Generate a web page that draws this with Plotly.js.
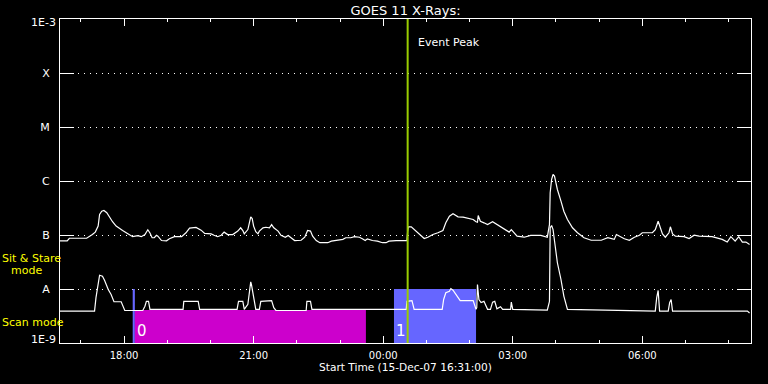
<!DOCTYPE html>
<html><head><meta charset="utf-8">
<script src="https://cdn.plot.ly/plotly-3.0.1.min.js"></script>
<style>html,body{margin:0;padding:0;background:#000;}#chart{width:768px;height:384px;}</style>
</head><body><div id="chart"></div>
<script>
// GOES 11 long channel (1-8 A), times HH:MM from 15-Dec-07 16:31 to 16-Dec-07 08:31
const longTime = ['16:31','16:41','16:44','17:08','17:16','17:20','17:24','17:26','17:29','17:32','17:36','17:40','17:44','17:49','17:54','17:58','18:03','18:08','18:12','18:19','18:24','18:29','18:33','18:36','18:39','18:42','18:45','18:47','18:52','18:59','19:03','19:10','19:20','19:26','19:31','19:40',
'19:47','19:52','20:01','20:05','20:10','20:15','20:19','20:24','20:31','20:38','20:42','20:45','20:47','20:52','20:54','20:56','20:58','21:00','21:03','21:06','21:08','21:13','21:17','21:22','21:25','21:28','21:34','21:38','21:44','21:48','21:52','21:57','22:06','22:11','22:15','22:19','22:22','22:27','22:32','22:43','22:48','22:57',
'23:04','23:08','23:15','23:20','23:27','23:31','23:35','23:38','23:45','23:52','23:59','00:04','00:08','00:18','00:33','00:34','00:35','00:39','00:46','00:53','00:57','01:02','01:09','01:16','01:23','01:27','01:32','01:37','01:44','01:51','01:58','02:05','02:09','02:11','02:12','02:15','02:20','02:25','02:32','02:36','02:43','02:50','02:55','02:58','03:02','03:06','03:16','03:25','03:39','03:48','03:51','03:52','03:54','03:56','03:58','04:02','04:07','04:11','04:16','04:23','04:30','04:39','04:49','05:03','05:12','05:21','05:24','05:30','05:35','05:42','05:49','05:56','06:00','06:14','06:18','06:22','06:24','06:28','06:32','06:37','06:39','06:42','06:46','06:58','07:05','07:12','07:19','07:37','07:51','07:58','08:03','08:09','08:14','08:19','08:24','08:29'];
const longFlux = [7.8e-8,7.8e-8,8.7e-8,8.7e-8,1.02e-7,1.13e-7,1.46e-7,2.40e-7,2.76e-7,2.84e-7,2.58e-7,2.08e-7,1.76e-7,1.46e-7,1.30e-7,1.21e-7,1.10e-7,9.9e-8,9.3e-8,9.7e-8,9.3e-8,1.02e-7,1.25e-7,1.09e-7,8.9e-8,8.9e-8,9.9e-8,9.5e-8,7.9e-8,7.8e-8,8.5e-8,9.3e-8,9.3e-8,1.10e-7,1.34e-7,1.38e-7,
1.23e-7,1.07e-7,1.05e-7,9.9e-8,9.3e-8,9.9e-8,1.13e-7,1.02e-7,1.02e-7,1.18e-7,1.36e-7,1.21e-7,1.05e-7,1.26e-7,1.68e-7,2.17e-7,2.02e-7,1.46e-7,1.15e-7,1.05e-7,1.18e-7,1.36e-7,1.39e-7,1.36e-7,1.56e-7,1.36e-7,1.18e-7,9.9e-8,9.1e-8,9.8e-8,8.9e-8,7.9e-8,8.0e-8,9.1e-8,1.21e-7,1.18e-7,9.5e-8,7.9e-8,7.2e-8,7.2e-8,7.7e-8,8.0e-8,
8.3e-8,8.9e-8,8.9e-8,9.3e-8,9.1e-8,8.5e-8,7.9e-8,8.5e-8,7.9e-8,7.7e-8,7.2e-8,7.2e-8,7.7e-8,7.9e-8,7.9e-8,1.18e-7,1.42e-7,1.42e-7,1.15e-7,9.5e-8,8.6e-8,9.1e-8,1.02e-7,1.10e-7,1.21e-7,1.68e-7,2.23e-7,2.47e-7,2.17e-7,2.14e-7,2.02e-7,1.94e-7,1.76e-7,1.73e-7,2.30e-7,1.80e-7,1.68e-7,1.56e-7,1.76e-7,1.63e-7,1.46e-7,1.26e-7,1.13e-7,1.26e-7,1.07e-7,9.5e-8,9.1e-8,9.8e-8,9.8e-8,9.1e-8,1.56e-7,6.05e-7,1.07e-6,1.32e-6,1.23e-6,6.96e-7,4.23e-7,2.76e-7,1.94e-7,1.36e-7,1.10e-7,8.9e-8,8.0e-8,8.0e-8,8.9e-8,8.3e-8,1.02e-7,9.3e-8,8.5e-8,8.0e-8,9.1e-8,9.9e-8,1.10e-7,1.10e-7,1.26e-7,1.80e-7,1.46e-7,1.05e-7,9.1e-8,1.10e-7,1.42e-7,1.05e-7,9.5e-8,9.3e-8,8.6e-8,9.9e-8,9.5e-8,9.3e-8,8.3e-8,7.4e-8,9.3e-8,7.7e-8,9.3e-8,7.4e-8,7.4e-8,6.7e-8];

// GOES 11 short channel (0.5-4 A)
const shortTime = ['16:31','17:19','17:21','17:26','17:30','17:33','17:38','17:42','17:46','17:56','18:01','18:26','18:29','18:31','18:34','18:36','19:22','19:23','19:43','19:45','20:37','20:39','20:45','20:47','20:52','20:54','20:56','20:57','20:59','21:01','21:03','21:08','21:10','21:25','21:28','21:31','22:13','22:14','22:19','22:21','00:32','00:33','00:40','00:43','01:22','01:24','01:27','01:32','01:34','01:37','01:41','01:47','02:05','02:07','02:09','02:10','02:11','02:13','02:16','02:20','02:25','02:29','02:32','02:35','02:38','02:43','02:46','02:57','02:58','03:00','03:48','03:51','03:52','03:54','03:56','03:59','04:02','04:07','04:11','04:16','05:20','06:18','06:20','06:22','06:24','06:36','06:38','06:40','06:42','08:26','08:29'];
const shortFlux = [3.9e-9,3.9e-9,6.9e-9,1.80e-8,1.73e-8,1.44e-8,9.8e-9,7.9e-9,5.8e-9,5.8e-9,4.0e-9,4.0e-9,4.8e-9,5.9e-9,5.9e-9,4.2e-9,4.2e-9,5.9e-9,5.9e-9,4.2e-9,4.2e-9,5.9e-9,5.9e-9,4.2e-9,5.2e-9,9.8e-9,1.36e-8,1.21e-8,7.9e-9,5.9e-9,4.2e-9,4.2e-9,5.9e-9,6.1e-9,4.5e-9,4.0e-9,4.0e-9,5.9e-9,5.9e-9,4.2e-9,4.2e-9,5.9e-9,6.1e-9,4.2e-9,4.2e-9,6.4e-9,8.5e-9,9.1e-9,1.02e-8,9.5e-9,7.9e-9,6.1e-9,6.1e-9,5.2e-9,4.2e-9,4.5e-9,1.21e-8,6.4e-9,5.6e-9,5.9e-9,4.2e-9,4.2e-9,5.7e-9,5.9e-9,4.3e-9,4.7e-9,4.2e-9,4.2e-9,5.7e-9,4.2e-9,4.05e-9,5.9e-9,1.36e-7,1.50e-7,1.26e-7,6.2e-8,3.06e-8,1.50e-8,7.4e-9,4.2e-9,4.0e-9,3.9e-9,6.9e-9,9.4e-9,3.9e-9,3.9e-9,5.6e-9,6.4e-9,3.9e-9,3.9e-9,3.6e-9];

// Observing mode intervals (Sit & Stare bar, Scan mode 0, Sit & Stare 1)
const modeStart = ['18:12','18:15','00:15'];
const modeEnd   = ['18:15','23:36','02:09'];
const modeTop   = [1e-8, 4.1e-9, 1e-8];
const modeLabel = ['', '0', '1'];
const eventPeak = '00:34';

const rangeStart = '16:31', rangeEnd = '08:31', firstMajorTick = '18:00';
const yTickVals = [1e-9,1e-8,1e-7,1e-6,1e-5,1e-4,1e-3];
const yTickText = ['1E-9','A','B','C','M','X','1E-3'];
const titleText = 'GOES 11 X-Rays:';
const xTitleText = 'Start Time (15-Dec-07 16:31:00)';

function toDate(hm){ const h = parseInt(hm.slice(0,2),10); return (h >= 12 ? '2007-12-15 ' : '2007-12-16 ') + hm; }

const FONT = 'DejaVu Sans';
const modeColors = ['#6666ff', '#cc00cc', '#6666ff'];
const traces = [];
modeStart.forEach((s,i)=>{
  const a = toDate(s), b = toDate(modeEnd[i]);
  traces.push({x:[a,b,b,a,a], y:[1e-9,1e-9,modeTop[i],modeTop[i],1e-9], type:'scatter', mode:'lines',
    fill:'toself', fillcolor:modeColors[i], line:{width:0, color:modeColors[i]}, hoverinfo:'skip', showlegend:false});
});
traces.push({x:longTime.map(toDate), y:longFlux, type:'scatter', mode:'lines', line:{color:'#ffffff', width:1.2}, showlegend:false});
traces.push({x:shortTime.map(toDate), y:shortFlux, type:'scatter', mode:'lines', line:{color:'#ffffff', width:1.2}, showlegend:false});
traces.push({x:[toDate(eventPeak), toDate(eventPeak)], y:[yTickVals[0], yTickVals[yTickVals.length-1]], type:'scatter', mode:'lines', line:{color:'#99cc00', width:2}, showlegend:false});

// decade labels at the box edges are drawn as annotations so they sit inside the box like the original
const edgeIdx = [0, yTickText.length-1];
const annotations = [
  {text:yTickText[0], x:-0.0045, xref:'paper', xanchor:'right', y:0.011, yref:'paper', yanchor:'middle', showarrow:false, borderpad:0, font:{family:FONT, size:11, color:'#ffffff'}},
  {text:yTickText[yTickText.length-1], x:-0.0045, xref:'paper', xanchor:'right', y:0.988, yref:'paper', yanchor:'middle', showarrow:false, borderpad:0, font:{family:FONT, size:11, color:'#ffffff'}},
  {text:'Event Peak', x:toDate(eventPeak), xref:'x', xanchor:'left', xshift:9, y:0.926, yref:'paper', yanchor:'middle', showarrow:false, borderpad:0, font:{family:FONT, size:11, color:'#ffffff'}},
  {text:'Sit & Stare', x:-0.0852, xref:'paper', xanchor:'left', y:0.262, yref:'paper', yanchor:'middle', showarrow:false, borderpad:0, font:{family:FONT, size:11, color:'#ffff00'}},
  {text:'mode', x:-0.0723, xref:'paper', xanchor:'left', y:0.2234, yref:'paper', yanchor:'middle', showarrow:false, borderpad:0, font:{family:FONT, size:11, color:'#ffff00'}},
  {text:'Scan mode', x:-0.0852, xref:'paper', xanchor:'left', y:0.0647, yref:'paper', yanchor:'middle', showarrow:false, borderpad:0, font:{family:FONT, size:11, color:'#ffff00'}}
];
modeLabel.forEach((t,i)=>{ if(t) annotations.push({text:t, x:toDate(modeStart[i]), xref:'x', xanchor:'left', xshift:1, y:0.036, yref:'paper', yanchor:'middle', showarrow:false, borderpad:0, font:{family:FONT, size:15, color:'#ffffff'}}); });

const layout = {
  width:768, height:384,
  margin:{l:60, r:17, t:19, b:41, pad:0},
  paper_bgcolor:'#000000', plot_bgcolor:'#000000',
  font:{family:FONT, color:'#ffffff'},
  showlegend:false, hovermode:false,
  title:{text:titleText, font:{family:FONT, size:13, color:'#ffffff'}, x:0.5, xref:'paper', xanchor:'center', y:0.974, yref:'container', yanchor:'middle'},
  xaxis:{type:'date', range:[toDate(rangeStart), toDate(rangeEnd)], showgrid:false, zeroline:false,
    showline:true, linecolor:'#ffffff', linewidth:1, mirror:'ticks',
    ticks:'inside', ticklen:7, tickwidth:1, tickcolor:'#ffffff',
    tick0:toDate(firstMajorTick), dtick:3*3600000, tickformat:'%H:%M', ticklabelstandoff:3,
    tickfont:{family:FONT, size:10, color:'#ffffff'},
    minor:{dtick:3600000, ticks:'inside', ticklen:3, tickwidth:1, tickcolor:'#ffffff', showgrid:false},
    title:{text:xTitleText, font:{family:FONT, size:10.6, color:'#ffffff'}, standoff:3}},
  yaxis:{type:'log', range:[Math.log10(yTickVals[0]), Math.log10(yTickVals[yTickVals.length-1])],
    tickmode:'array', tickvals:yTickVals,
    ticktext:yTickText.map((t,i)=> edgeIdx.includes(i) ? '' : t+'\u00a0\u00a0'),
    showline:true, linecolor:'#ffffff', linewidth:1, mirror:'ticks',
    ticks:'inside', ticklen:14, tickwidth:1, tickcolor:'#ffffff',
    showgrid:true, gridcolor:'#ffffff', gridwidth:1, griddash:'1px,5px', zeroline:false,
    tickfont:{family:FONT, size:11, color:'#ffffff'}},
  annotations:annotations
};
Plotly.newPlot('chart', traces, layout, {staticPlot:true, displayModeBar:false});
</script>
</body></html>
